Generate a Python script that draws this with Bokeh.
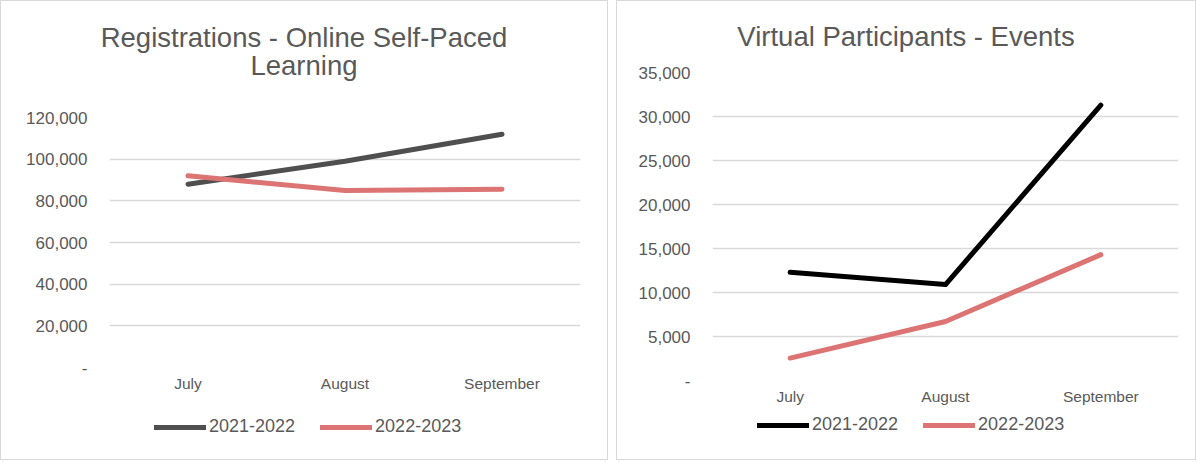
from bokeh.plotting import figure
from bokeh.models import (FactorRange, Range1d, Div, Legend, LegendItem,
                          NumeralTickFormatter, FixedTicker)
from bokeh.layouts import row, column
from bokeh.embed import file_html
from bokeh.resources import INLINE

months = ["July", "August", "September"]
series_names = ["2021-2022", "2022-2023"]

reg_title = ["Registrations - Online Self-Paced", "Learning"]
reg_2122 = [88000, 99000, 112000]
reg_2223 = [92000, 85000, 85600]
reg_ticks = [0, 20000, 40000, 60000, 80000, 100000, 120000]

virt_title = ["Virtual Participants - Events"]
virt_2122 = [12300, 10900, 31300]
virt_2223 = [2550, 6700, 14300]
virt_ticks = [0, 5000, 10000, 15000, 20000, 25000, 30000, 35000]

FONT = "Liberation Sans"
TXT = "#595959"
GRID = "#d9d9d9"
PINK = "#dc7474"
NAN = float("nan")


def blank_fig(width, height, bl, br):
    f = figure(width=width, height=height, output_backend="svg",
               toolbar_location=None, title=None,
               x_range=Range1d(bl, width - br), y_range=Range1d(0, height),
               x_axis_location=None, y_axis_location=None,
               min_border=0, min_border_left=bl, min_border_right=br,
               min_border_top=0, min_border_bottom=0)
    f.outline_line_color = None
    f.grid.grid_line_color = None
    f.background_fill_color = "white"
    f.border_fill_color = "white"
    return f


def make_chart(width, heights, borders, ymax, ticks, s1, s2, c1, title_lines,
               title_pad, legend_loc):
    th, mh, lh = heights
    bl, br, bt, bb = borders

    # title
    html = ('<div style="padding-top:%spx; width:%dpx; text-align:center; '
            'font-family:\'%s\'; font-size:27.5px; line-height:28px; '
            'color:%s; white-space:nowrap;">%s</div>'
            % (title_pad, width, FONT, TXT, "<br>".join(title_lines)))
    tf = Div(text=html, width=width, height=th,
             styles={"margin": "0", "padding": "0", "overflow": "visible"})

    # main plot
    p = figure(x_range=FactorRange(*months), y_range=Range1d(0, ymax),
               width=width, height=mh, output_backend="svg",
               toolbar_location=None, title=None,
               min_border_left=bl, min_border_right=br,
               min_border_top=bt, min_border_bottom=bb)
    p.outline_line_color = None
    p.background_fill_color = "white"
    p.border_fill_color = "white"
    p.xgrid.grid_line_color = None
    p.ygrid.grid_line_color = GRID
    p.ygrid.grid_line_width = 1.5
    p.yaxis.ticker = FixedTicker(ticks=ticks)
    p.yaxis.formatter = NumeralTickFormatter(format="0,0")
    p.yaxis.major_label_overrides = {0: "-"}
    for ax in (p.xaxis[0], p.yaxis[0]):
        ax.axis_line_color = None
        ax.major_tick_line_color = None
        ax.minor_tick_line_color = None
        ax.major_tick_in = 0
        ax.major_tick_out = 0
        ax.major_label_text_font = FONT
        ax.major_label_text_color = TXT
    p.yaxis.major_label_text_font_size = "17px"
    p.yaxis.major_label_standoff = 22
    p.xaxis.major_label_text_font_size = "15.5px"
    p.xaxis.major_label_standoff = 7

    p.line(months, s1, line_color=c1, line_width=5, line_cap="round",
           line_join="round")
    p.line(months, s2, line_color=PINK, line_width=5, line_cap="round",
           line_join="round")

    # legend strip
    lf = blank_fig(width, lh, bl, br)
    k1 = lf.line(x=[NAN], y=[NAN], line_color=c1, line_width=5,
                 line_cap="round")
    k2 = lf.line(x=[NAN], y=[NAN], line_color=PINK, line_width=5,
                 line_cap="round")
    leg = Legend(items=[LegendItem(label=series_names[0], renderers=[k1]),
                        LegendItem(label=series_names[1], renderers=[k2])],
                 orientation="horizontal", location=legend_loc,
                 glyph_width=52, glyph_height=20, label_standoff=3,
                 spacing=25, padding=0, margin=0,
                 label_text_font=FONT, label_text_font_size="18px",
                 label_text_color=TXT, border_line_color=None,
                 background_fill_alpha=0)
    lf.add_layout(leg)

    return column(tf, p, lf, spacing=0,
                  styles={"border": "1px solid #d9d9d9",
                          "background-color": "white"})


c1 = make_chart(606, (99, 300, 59), (108, 27, 17, 33), 120000, reg_ticks,
                reg_2122, reg_2223, "#4f4f4f", reg_title,
                22.5, (45, 22))
c2 = make_chart(578, (59, 352, 47), (95, 17, 12, 32), 35000, virt_ticks,
                virt_2122, virt_2223, "#000000", virt_title,
                21.5, (45, 24))

layout = row(c1, c2, spacing=8)
open("out.html", "w").write(file_html(layout, INLINE))
